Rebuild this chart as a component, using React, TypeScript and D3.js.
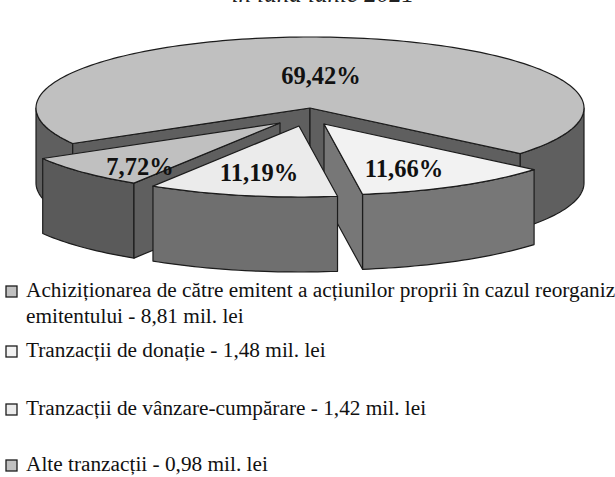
import React from 'react';
import * as d3 from 'd3';

const W = 615;
const H = 477;

// share of each slice, in chart order
const sliceLabels = ['69,42%', '11,66%', '11,19%', '7,72%'];
const sliceValues = [69.42, 11.66, 11.19, 7.72];

const legendLines = [
  'Achiziționarea de către emitent a acțiunilor proprii în cazul reorganizării',
  'Tranzacții de donație - 1,48 mil. lei',
  'Tranzacții de vânzare-cumpărare - 1,42 mil. lei',
  'Alte tranzacții - 0,98 mil. lei',
];
const legendSecondLine = 'emitentului - 8,81 mil. lei';
const titleText = 'în luna iunie 2021';

// styling per slice
const topColors = ['#c0c0c0', '#f2f2f2', '#ebebeb', '#c0c0c0'];
const sideColors = ['#5f5f5f', '#777777', '#6f6f6f', '#5a5a5a'];
const explode = [[0, 0], [14, 16], [-11, 18], [-30, 15]];
const labelPos = [[321, 75], [404, 168], [259, 172], [140, 166]];
const legendY = [291, 351, 409, 465];

const cx = 310;
const cy = 108;
const rx = 274;
const ry = 71;
const depth = 75;

const xScale = d3.scaleLinear().domain([-1, 1]).range([cx - rx, cx + rx]);
const yScale = d3.scaleLinear().domain([-1, 1]).range([cy - ry, cy + ry]);

const pie = d3.pie<number>().sort(null).startAngle((240 * Math.PI) / 180).endAngle((600 * Math.PI) / 180);
const arcs = pie(sliceValues);

// d3 angle: 0 at 12 o'clock, clockwise
const px = (a: number) => xScale(Math.sin(a));
const py = (a: number) => yScale(-Math.cos(a));

const lineGen = d3.line<[number, number]>();

function rim(a0: number, a1: number, dy = 0): [number, number][] {
  const n = Math.max(2, Math.ceil(Math.abs(a1 - a0) * 40));
  return d3.range(n + 1).map(i => {
    const a = a0 + ((a1 - a0) * i) / n;
    return [px(a), py(a) + dy] as [number, number];
  });
}

function topPath(a0: number, a1: number) {
  return lineGen([[cx, cy], ...rim(a0, a1)]) + 'Z';
}

function wallPath(a: number) {
  return lineGen([[cx, cy], [px(a), py(a)], [px(a), py(a) + depth], [cx, cy + depth]]) + 'Z';
}

// outer side, only the part facing the viewer (d3 angles 90..270 deg)
function sidePath(a0: number, a1: number) {
  const lo = Math.max(a0, Math.PI / 2);
  const hi = Math.min(a1, (3 * Math.PI) / 2);
  if (hi <= lo) return null;
  return lineGen([...rim(lo, hi), ...rim(hi, lo, depth)]) + 'Z';
}

const stroke = { stroke: '#1c1c1c', strokeWidth: 1.2, strokeLinejoin: 'round' as const };

function Slice({ index }: { index: number }) {
  const a = arcs[index];
  const [dx, dy] = explode[index];
  const side = sideColors[index];
  const turn = 2 * Math.PI;
  const sides: (string | null)[] = [];
  if (index === 0) {
    // main slice wraps past the back, its side shows on both ends
    sides.push(sidePath(a.startAngle, (3 * Math.PI) / 2));
    sides.push(sidePath(Math.PI / 2, a.endAngle - turn));
  } else {
    sides.push(sidePath(a.startAngle - turn, a.endAngle - turn));
  }
  return (
    <g transform={`translate(${dx},${dy})`}>
      {sides.map((d, i) => d && <path key={i} d={d} fill={side} {...stroke} />)}
      {index === 0 && <path d={wallPath(a.startAngle)} fill={side} {...stroke} />}
      {index === 0 && <path d={wallPath(a.endAngle)} fill={side} {...stroke} />}
      {index === 1 && <path d={wallPath(a.endAngle)} fill={side} {...stroke} />}
      {index === 3 && <path d={wallPath(a.startAngle)} fill="#5f5f5f" {...stroke} />}
      <path d={topPath(a.startAngle, a.endAngle)} fill={topColors[index]} {...stroke} />
    </g>
  );
}

export default function App() {
  return (
    <svg
      width={W}
      height={H}
      viewBox={`0 0 ${W} ${H}`}
      style={{ position: 'absolute', left: 0, top: 0, background: '#fff' }}
      fontFamily="'Liberation Serif'"
    >
      <text x={323} y={2} textAnchor="middle" fontSize={25} fontStyle="italic" fill="#222">
        {titleText}
      </text>
      {[0, 3, 1, 2].map(i => <Slice key={i} index={i} />)}
      {sliceLabels.map((t, i) => (
        <text key={t} x={labelPos[i][0]} y={labelPos[i][1]} dominantBaseline="central" textAnchor="middle"
          fontSize={24.5} fontWeight="bold" fill="#111">
          {t}
        </text>
      ))}
      {legendLines.map((t, i) => (
        <g key={t}>
          <rect x={6} y={legendY[i] - 5} width={11} height={11} fill={topColors[i]} stroke="#1c1c1c" strokeWidth={1.3} />
          <text x={26} y={legendY[i] + 6} fontSize={21.3} fill="#111">{t}</text>
        </g>
      ))}
      <text x={26} y={323} fontSize={21.3} fill="#111">{legendSecondLine}</text>
    </svg>
  );
}
